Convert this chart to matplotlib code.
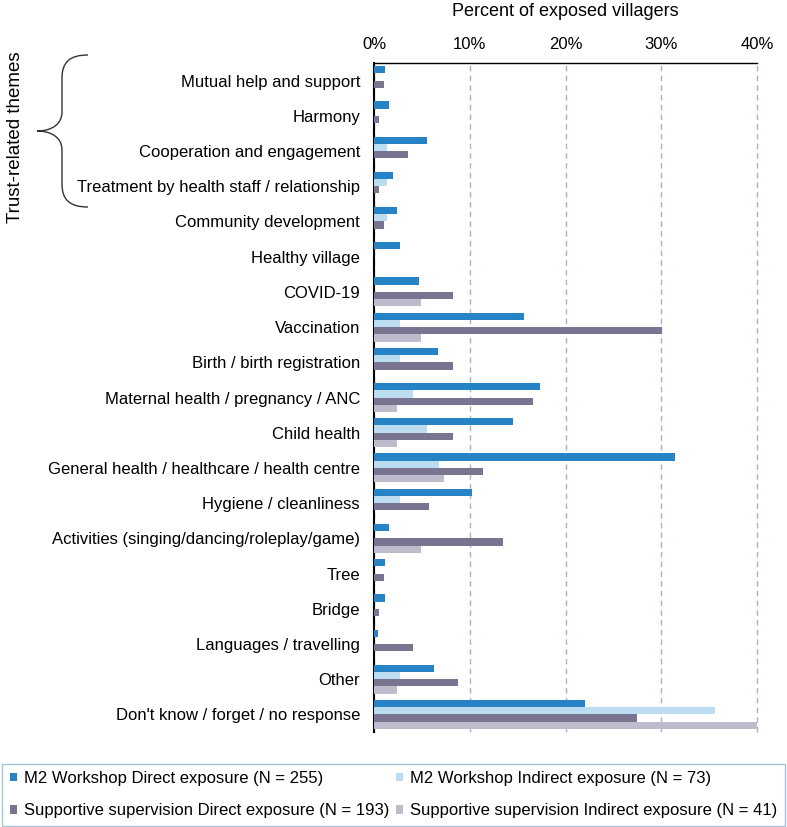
import numpy as np
import matplotlib
matplotlib.use("Agg")
import matplotlib.pyplot as plt
from matplotlib.path import Path
from matplotlib.patches import PathPatch

plt.rcParams['font.family'] = ['Liberation Sans', 'DejaVu Sans']

categories = [
    "Mutual help and support",
    "Harmony",
    "Cooperation and engagement",
    "Treatment by health staff / relationship",
    "Community development",
    "Healthy village",
    "COVID-19",
    "Vaccination",
    "Birth / birth registration",
    "Maternal health / pregnancy / ANC",
    "Child health",
    "General health / healthcare / health centre",
    "Hygiene / cleanliness",
    "Activities (singing/dancing/roleplay/game)",
    "Tree",
    "Bridge",
    "Languages / travelling",
    "Other",
    "Don't know / forget / no response",
]

# percent of exposed villagers
m2_direct = [1.2, 1.6, 5.5, 2.0, 2.4, 2.7, 4.7, 15.7, 6.7, 17.3, 14.5, 31.4, 10.2, 1.6, 1.2, 1.2, 0.4, 6.3, 22.0]
m2_indirect = [0, 0, 1.4, 1.4, 1.4, 0, 0, 2.7, 2.7, 4.1, 5.5, 6.8, 2.7, 0, 0, 0, 0, 2.7, 35.6]
ss_direct = [1.0, 0.5, 3.6, 0.5, 1.0, 0, 8.3, 30.1, 8.3, 16.6, 8.3, 11.4, 5.7, 13.5, 1.0, 0.5, 4.1, 8.8, 27.5]
ss_indirect = [0, 0, 0, 0, 0, 0, 4.9, 4.9, 0, 2.4, 2.4, 7.3, 0, 4.9, 0, 0, 0, 2.4, 40.5]

series_names = [
    "M2 Workshop Direct exposure (N = 255)",
    "M2 Workshop Indirect exposure (N = 73)",
    "Supportive supervision Direct exposure (N = 193)",
    "Supportive supervision Indirect exposure (N = 41)",
]
colors = ["#2683C6", "#BCDCF1", "#79748F", "#BEBBCC"]
xticks = [0, 10, 20, 30, 40]
xtick_labels = ["0%", "10%", "20%", "30%", "40%"]

W, H = 787, 827
fig = plt.figure(figsize=(W / 100, H / 100), dpi=100)
ax = fig.add_axes([374 / W, 1 - 732 / H, 383 / W, 669 / H])

y = np.arange(len(categories))
h = 0.205
handles = []
for i, vals in enumerate([m2_direct, m2_indirect, ss_direct, ss_indirect]):
    b = ax.barh(y + (i - 1.5) * h, vals, height=h, color=colors[i], label=series_names[i], zorder=3)
    handles.append(b)

ax.set_ylim(len(categories) - 0.5, -0.5)
ax.set_xlim(0, 40)
ax.set_yticks(y)
ax.set_yticklabels(categories, fontsize=12)
ax.tick_params(axis='y', length=0, pad=10)

ax.xaxis.tick_top()
ax.xaxis.set_label_position('top')
ax.set_xticks(xticks)
ax.set_xticklabels(xtick_labels, fontsize=12)
ax.tick_params(axis='x', length=0, pad=8)
ax.set_xlabel("Percent of exposed villagers", fontsize=13, labelpad=15)

ax.grid(axis='x', color='#9FB7CC', linestyle=(0, (4, 3)), linewidth=1, zorder=0)
for gl in ax.get_xgridlines():
    gl.set_clip_on(False)
ax.spines['right'].set_visible(False)
ax.spines['bottom'].set_visible(False)
ax.spines['left'].set_linewidth(1.5)
ax.spines['top'].set_linewidth(1)

# curly brace for trust-related themes (pixel coords, y down)
pts = [(88, 55), (70, 55), (62, 62), (62, 78),
       (62, 112),
       (62, 124), (52, 131), (37, 131),
       (52, 131), (62, 138), (62, 150),
       (62, 184),
       (62, 200), (70, 207), (88, 207)]
codes = [Path.MOVETO, Path.CURVE4, Path.CURVE4, Path.CURVE4,
         Path.LINETO,
         Path.CURVE4, Path.CURVE4, Path.CURVE4,
         Path.CURVE4, Path.CURVE4, Path.CURVE4,
         Path.LINETO,
         Path.CURVE4, Path.CURVE4, Path.CURVE4]
verts = [(px / W, 1 - py / H) for px, py in pts]
brace = PathPatch(Path(verts, codes), transform=fig.transFigure, fill=False,
                  edgecolor='#333333', linewidth=1)
fig.add_artist(brace)
fig.text(16 / W, 1 - 137 / H, "Trust-related themes", rotation=90,
         ha='center', va='center', fontsize=13.5)

# legend is filled column by column, so reorder to read row by row
order = [0, 2, 1, 3]
leg = fig.legend(handles=[handles[k] for k in order], loc='lower left', ncol=2, mode='expand',
                 bbox_to_anchor=(2 / W, 1 / H, 783 / W, 64 / H),
                 fontsize=12, frameon=True, fancybox=False,
                 handlelength=0.42, handleheight=0.42, handletextpad=0.42,
                 borderaxespad=0, labelspacing=1.05, borderpad=0.45)
leg.get_frame().set_edgecolor('#8DB3D6')
leg.get_frame().set_linewidth(1)

fig.savefig("out.png", dpi=100)
